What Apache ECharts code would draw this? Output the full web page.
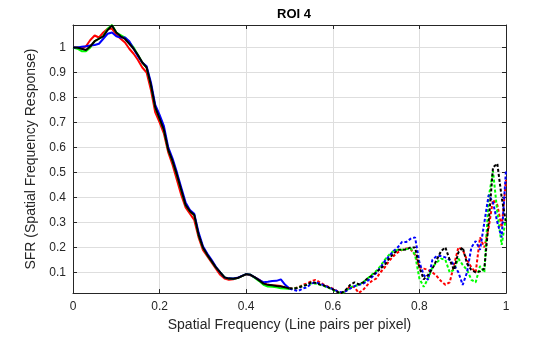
<!DOCTYPE html>
<html>
<head>
<meta charset="utf-8">
<script src="https://cdn.jsdelivr.net/npm/echarts@6/dist/echarts.min.js"></script>
<style>html,body{margin:0;padding:0;background:#fff}#c{width:560px;height:337px}</style>
</head>
<body>
<div id="c"></div>
<script>
var freq = [0.00,0.01,0.02,0.03,0.04,0.05,0.06,0.07,0.08,0.09,
0.10,0.11,0.12,0.13,0.14,0.15,0.16,0.17,0.18,0.19,
0.20,0.21,0.22,0.23,0.24,0.25,0.26,0.27,0.28,0.29,
0.30,0.31,0.32,0.33,0.34,0.35,0.36,0.37,0.38,0.39,
0.40,0.41,0.42,0.43,0.44,0.45,0.46,0.47,0.48,0.49,
0.50,0.51,0.52,0.53,0.54,0.55,0.56,0.57,0.58,0.59,
0.60,0.61,0.62,0.63,0.64,0.65,0.66,0.67,0.68,0.69,
0.70,0.71,0.72,0.73,0.74,0.75,0.76,0.77,0.78,0.79,
0.80,0.81,0.82,0.83,0.84,0.85,0.86,0.87,0.88,0.89,
0.90,0.91,0.92,0.93,0.94,0.95,0.96,0.97,0.98,0.99,1.00];

var sfrRed = [1.0,0.998,0.995,1.005,1.03,1.048,1.04,1.06,1.075,1.075,
1.05,1.035,1.02,0.995,0.975,0.95,0.92,0.9,0.83,0.74,
0.70,0.655,0.58,0.53,0.47,0.41,0.36,0.335,0.31,0.24,
0.19,0.165,0.14,0.115,0.09,0.075,0.07,0.072,0.078,0.085,
0.092,0.088,0.08,0.07,0.058,0.05,0.048,0.047,0.045,0.04,
0.035,0.036,0.04,0.05,0.055,0.065,0.07,0.06,0.05,0.042,
0.035,0.025,0.018,0.025,0.045,0.04,0.018,0.03,0.05,0.065,
0.075,0.1,0.12,0.145,0.165,0.18,0.19,0.196,0.192,0.17,
0.12,0.115,0.11,0.1,0.085,0.065,0.05,0.06,0.13,0.2,
0.19,0.15,0.12,0.1,0.24,0.2,0.28,0.39,0.37,0.28,0.47];

var sfrGreen = [1.0,0.995,0.985,0.985,1.0,1.025,1.035,1.045,1.075,1.09,
1.06,1.05,1.04,1.02,1.0,0.97,0.94,0.92,0.85,0.76,
0.715,0.67,0.59,0.545,0.49,0.43,0.37,0.345,0.33,0.25,
0.2,0.17,0.145,0.12,0.1,0.08,0.075,0.074,0.077,0.085,
0.093,0.09,0.078,0.065,0.05,0.043,0.042,0.04,0.036,0.035,
0.033,0.035,0.04,0.045,0.05,0.055,0.055,0.05,0.045,0.038,
0.03,0.022,0.016,0.025,0.04,0.045,0.05,0.06,0.075,0.09,
0.105,0.125,0.15,0.17,0.185,0.19,0.19,0.193,0.196,0.17,
0.075,0.042,0.075,0.12,0.14,0.155,0.15,0.1,0.11,0.155,
0.13,0.11,0.07,0.06,0.125,0.1,0.4,0.505,0.34,0.21,0.32];

var sfrBlue = [1.0,1.0,1.003,1.005,1.008,1.01,1.015,1.035,1.055,1.06,
1.045,1.04,1.04,1.025,0.995,0.965,0.94,0.925,0.86,0.77,
0.73,0.685,0.6,0.555,0.5,0.44,0.38,0.35,0.335,0.26,
0.205,0.175,0.15,0.122,0.1,0.08,0.076,0.075,0.078,0.086,
0.093,0.09,0.08,0.07,0.06,0.062,0.065,0.066,0.072,0.05,
0.035,0.03,0.025,0.035,0.04,0.055,0.06,0.055,0.048,0.04,
0.033,0.025,0.02,0.025,0.035,0.045,0.05,0.055,0.065,0.08,
0.097,0.12,0.145,0.165,0.185,0.2,0.222,0.222,0.235,0.24,
0.14,0.09,0.07,0.15,0.165,0.165,0.16,0.15,0.13,0.1,
0.05,0.1,0.2,0.225,0.19,0.3,0.41,0.38,0.3,0.24,0.51];

var sfrBlack = [1.0,1.0,0.995,0.99,1.005,1.025,1.035,1.045,1.07,1.088,
1.06,1.045,1.034,1.015,0.995,0.97,0.94,0.92,0.85,0.76,
0.715,0.67,0.59,0.545,0.49,0.43,0.37,0.345,0.33,0.25,
0.2,0.17,0.145,0.12,0.1,0.08,0.075,0.074,0.077,0.085,
0.093,0.09,0.08,0.068,0.055,0.05,0.048,0.045,0.043,0.04,
0.036,0.035,0.038,0.045,0.05,0.06,0.058,0.052,0.047,0.04,
0.032,0.022,0.017,0.03,0.05,0.06,0.052,0.06,0.075,0.087,
0.1,0.115,0.13,0.155,0.175,0.19,0.19,0.192,0.2,0.2,
0.12,0.072,0.09,0.115,0.15,0.185,0.2,0.15,0.11,0.18,
0.2,0.135,0.11,0.1,0.104,0.115,0.3,0.52,0.535,0.4,0.3];

var yTicks = [0.1,0.2,0.3,0.4,0.5,0.6,0.7,0.8,0.9,1];
var xTicks = [0,0.2,0.4,0.6,0.8,1];
var nyquistIndex = 50;

var seriesDefs = [
  {name:'R', color:'#ff0000', vals:sfrRed},
  {name:'G', color:'#00ff00', vals:sfrGreen},
  {name:'B', color:'#0000ff', vals:sfrBlue},
  {name:'K', color:'#000000', vals:sfrBlack}
];

function pairs(vals, a, b) {
  var out = [];
  for (var i = a; i <= b; i++) out.push([freq[i], vals[i]]);
  return out;
}

var series = [];
seriesDefs.forEach(function (d) {
  series.push({type:'line', name:d.name, data:pairs(d.vals, 0, nyquistIndex),
    showSymbol:false, silent:true, animation:false,
    lineStyle:{color:d.color, width:2}});
});
seriesDefs.forEach(function (d) {
  series.push({type:'line', name:d.name+'d', data:pairs(d.vals, nyquistIndex, freq.length-1),
    showSymbol:false, silent:true, animation:false,
    lineStyle:{color:d.color, width:2, type:[3,2]}});
});

var txt = '#262626';
var font = 'Liberation Sans, Arial, Helvetica, sans-serif';
var chart = echarts.init(document.getElementById('c'), null, {renderer:'canvas'});
chart.setOption({
  animation:false,
  backgroundColor:'#ffffff',
  title:{text:'ROI 4', left:289, top:3, textAlign:'center',
    textStyle:{fontFamily:font, fontSize:13, fontWeight:'bold', color:'#000'}},
  grid:{left:73, right:54, top:25, bottom:40},
  xAxis:[{
    type:'value', min:0, max:1,
    name:'Spatial Frequency (Line pairs per pixel)', nameLocation:'middle', nameGap:24,
    nameTextStyle:{fontFamily:font, fontSize:14, color:txt},
    axisLine:{show:true, onZero:false, lineStyle:{color:txt, width:1}},
    axisTick:{show:true, inside:true, length:4, customValues:xTicks, lineStyle:{color:txt}},
    axisLabel:{customValues:xTicks, fontFamily:font, fontSize:12, color:txt, margin:8},
    splitLine:{show:true, lineStyle:{color:'#dedede', width:1}}
  },{
    type:'value', min:0, max:1, position:'top',
    axisLine:{show:true, onZero:false, lineStyle:{color:txt, width:1}},
    axisTick:{show:true, inside:true, length:4, customValues:xTicks, lineStyle:{color:txt}},
    axisLabel:{show:false}, splitLine:{show:false}
  }],
  yAxis:[{
    type:'value', min:0.017, max:1.09,
    name:'SFR (Spatial Frequency Response)', nameLocation:'middle', nameGap:26,
    nameTextStyle:{fontFamily:font, fontSize:14, color:txt},
    axisLine:{show:true, onZero:false, lineStyle:{color:txt, width:1}},
    axisTick:{show:true, inside:true, length:4, customValues:yTicks, lineStyle:{color:txt}},
    axisLabel:{customValues:yTicks, fontFamily:font, fontSize:12, color:txt, margin:7},
    splitLine:{show:true, lineStyle:{color:'#dedede', width:1}}
  },{
    type:'value', min:0.017, max:1.09, position:'right',
    axisLine:{show:true, onZero:false, lineStyle:{color:txt, width:1}},
    axisTick:{show:true, inside:true, length:4, customValues:yTicks, lineStyle:{color:txt}},
    axisLabel:{show:false}, splitLine:{show:false}
  }],
  series:series
});
</script>
</body>
</html>
